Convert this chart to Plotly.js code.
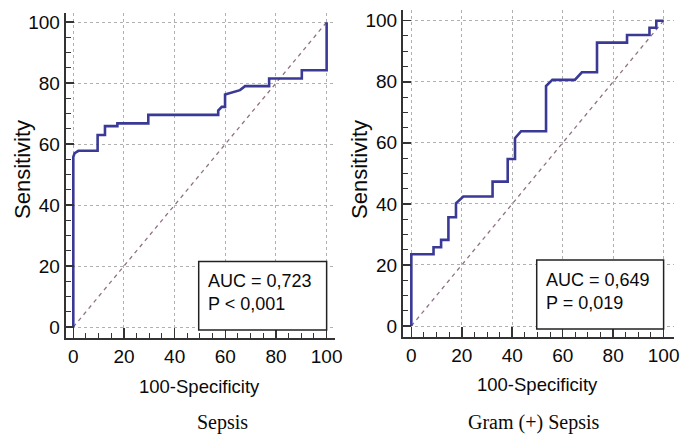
<!DOCTYPE html>
<html>
<head>
<meta charset="utf-8">
<script src="https://cdn.plot.ly/plotly-3.0.1.min.js"></script>
<style>html,body{margin:0;padding:0;background:#fff;}#chart{width:694px;height:434px;}</style>
</head>
<body>
<div id="chart"></div>
<script>
// ROC curve: Sepsis
const sepsisFPR  = [0, 0, 0.5, 2, 9.6, 9.6, 12.5, 12.5, 17.4, 17.4, 29.6, 29.6, 57.2, 57.2, 58.6, 59.9, 59.9, 63.2, 65.8, 67.8, 77.3, 77.3, 90.2, 90.2, 100, 100];
const sepsisSens = [0, 55.8, 57, 57.8, 57.8, 63, 63, 65.9, 65.9, 66.8, 66.8, 69.6, 69.6, 71, 72.2, 72.2, 76.3, 77, 77.7, 79, 79, 81.5, 81.5, 84.2, 84.2, 100];
// ROC curve: Gram (+) Sepsis
const gramFPR  = [0, 0, 8.8, 8.8, 11.8, 11.8, 14.7, 14.7, 17.7, 17.7, 20.6, 32.2, 32.2, 38.2, 38.2, 41.1, 41.1, 43.5, 53.4, 53.4, 55.9, 64.8, 67.6, 73.6, 73.6, 85.5, 85.5, 94.4, 94.4, 97.1, 97.1, 100];
const gramSens = [0, 23.5, 23.5, 25.8, 25.8, 28.2, 28.2, 35.6, 35.6, 40.2, 42.4, 42.4, 47.3, 47.3, 54.7, 54.7, 61.5, 63.8, 63.8, 78.6, 80.6, 80.6, 83.1, 83.1, 92.8, 92.8, 95.3, 95.3, 97.7, 97.7, 100, 100];
// Reference diagonal
const diagX = [0, 100];
const diagY = [0, 100];
// Tick values
const tickVals = [0, 20, 40, 60, 80, 100];
// Text
const panelTitles = ["Sepsis", "Gram (+) Sepsis"];
const aucTexts = ["AUC = 0,723<br>P &lt; 0,001", "AUC = 0,649<br>P = 0,019"];
const xTitle = "100-Specificity";
const yTitle = "Sensitivity";

const W = 694, H = 434;
const px = v => v / W;
const py = v => 1 - v / H;

const curveColor = "#3a3a96";
const diagColor = "#8f7285";
const textColor = "#0a0a0a";
const sans = "Liberation Sans, Arial, sans-serif";
const serif = "Liberation Serif, Times New Roman, serif";

const traces = [
  {x: diagX, y: diagY, xaxis: "x", yaxis: "y", mode: "lines", line: {color: diagColor, width: 1.3, dash: "4px,4px"}, hoverinfo: "skip"},
  {x: sepsisFPR, y: sepsisSens, xaxis: "x", yaxis: "y", mode: "lines", line: {color: curveColor, width: 2.6}},
  {x: diagX, y: diagY, xaxis: "x2", yaxis: "y2", mode: "lines", line: {color: diagColor, width: 1.3, dash: "4px,4px"}, hoverinfo: "skip"},
  {x: gramFPR, y: gramSens, xaxis: "x2", yaxis: "y2", mode: "lines", line: {color: curveColor, width: 2.6}}
];

function xAxis(domain, range) {
  return {
    domain: domain, range: range, tickvals: tickVals, ticks: "inside", ticklen: 10, tickwidth: 1.5, tickcolor: "#333",
    showline: true, linecolor: "#333", linewidth: 2, zeroline: false,
    showgrid: true, gridcolor: "#b0b0b0", griddash: "3px,3px", gridwidth: 1,
    tickfont: {family: sans, size: 19, color: textColor},
    minor: {dtick: 5, ticks: "inside", ticklen: 5, tickwidth: 1, tickcolor: "#333", showgrid: false},
    fixedrange: true
  };
}
function yAxis(domain, range, anchor) {
  const a = xAxis(domain, range);
  a.ticklen = 8;
  a.minor.ticklen = 5;
  a.anchor = anchor;
  return a;
}

const xa1 = xAxis([px(65.7), px(335)], [-3.0, 103.3]); xa1.anchor = "y";
const ya1 = yAxis([py(337.7), py(13.3)], [-3.5, 102.9], "x");
const xa2 = xAxis([px(403), px(673.7)], [-3.3, 104]); xa2.anchor = "y2";
const ya2 = yAxis([py(337), py(10)], [-3.6, 103.5], "x2");

function paperText(x, y, text, font, angle) {
  return {xref: "paper", yref: "paper", x: px(x), y: py(y), xanchor: "center", yanchor: "middle",
          textangle: angle || 0, showarrow: false, text: text, font: font};
}

const layout = {
  width: W, height: H, margin: {l: 0, r: 0, t: 0, b: 0},
  paper_bgcolor: "#fff", plot_bgcolor: "#fff", showlegend: false,
  xaxis: xa1, yaxis: ya1, xaxis2: xa2, yaxis2: ya2,
  shapes: [
    {type: "rect", xref: "x", yref: "y", x0: 49.5, x1: 100, y0: -1, y1: 21.5, line: {color: "#222", width: 1.5}, fillcolor: "#fff", layer: "above"},
    {type: "rect", xref: "x2", yref: "y2", x0: 49.7, x1: 100, y0: -1, y1: 21.6, line: {color: "#222", width: 1.5}, fillcolor: "#fff", layer: "above"}
  ],
  annotations: [
    {xref: "x", yref: "y", x: 52.2, y: 11.2, xanchor: "left", yanchor: "middle", align: "left", showarrow: false, text: aucTexts[0], font: {family: sans, size: 18, color: textColor}},
    {xref: "x2", yref: "y2", x: 52.4, y: 11.2, xanchor: "left", yanchor: "middle", align: "left", showarrow: false, text: aucTexts[1], font: {family: sans, size: 18, color: textColor}},
    paperText(22, 170, yTitle, {family: sans, size: 22, color: textColor}, -90),
    paperText(359, 170, yTitle, {family: sans, size: 22, color: textColor}, -90),
    paperText(199.3, 386, xTitle, {family: sans, size: 18.5, color: textColor}),
    paperText(537.3, 384, xTitle, {family: sans, size: 18.5, color: textColor}),
    paperText(222, 422, panelTitles[0], {family: serif, size: 20, color: textColor}),
    paperText(533.7, 422, panelTitles[1], {family: serif, size: 20, color: textColor})
  ]
};

Plotly.newPlot("chart", traces, layout, {displayModeBar: false, staticPlot: true});
</script>
</body>
</html>
